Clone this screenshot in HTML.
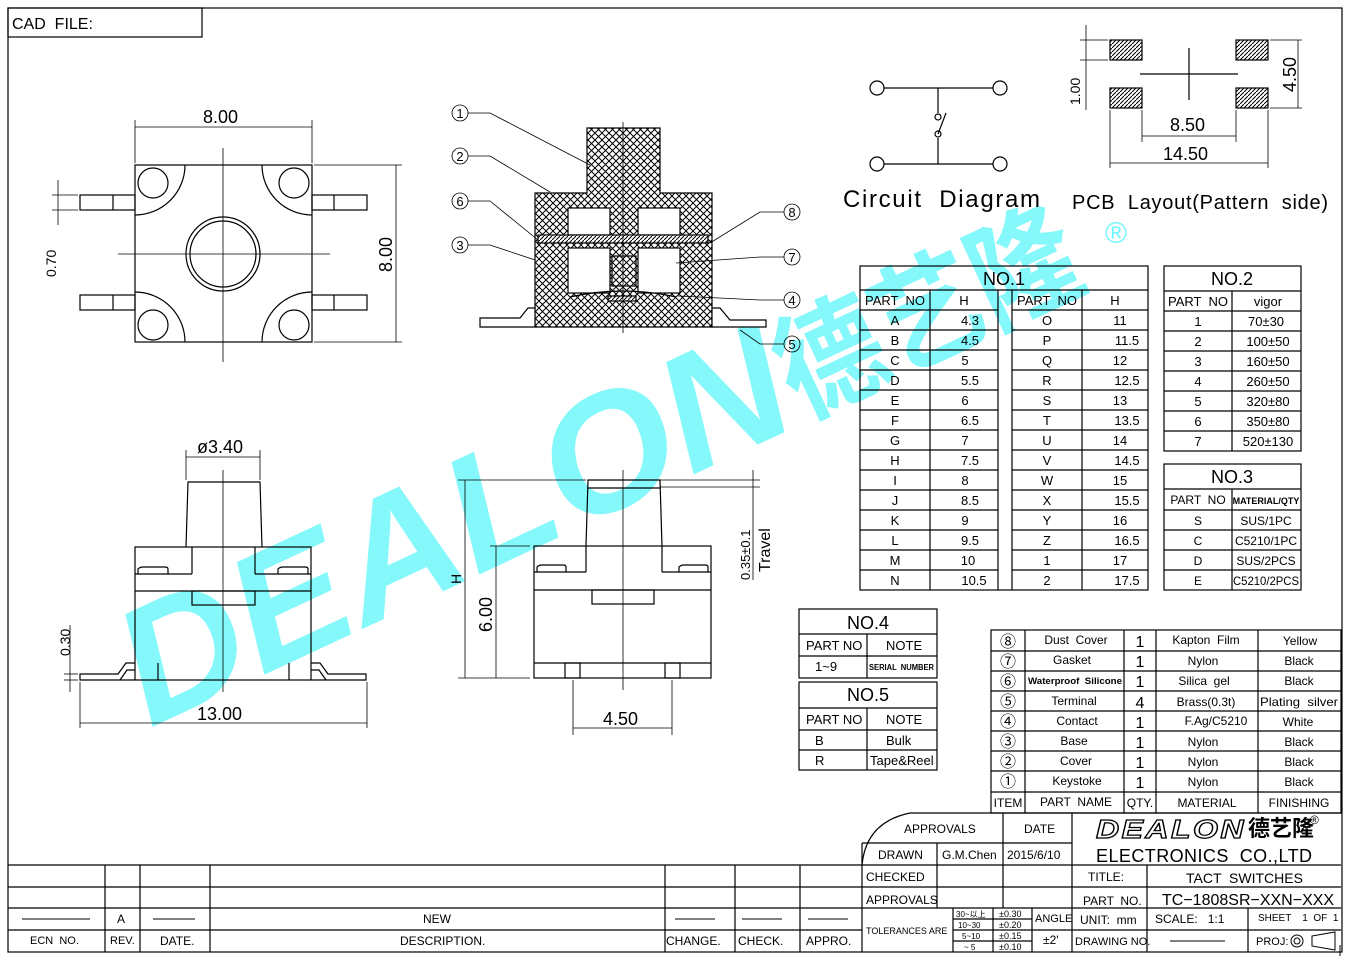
<!DOCTYPE html>
<html><head><meta charset="utf-8"><style>
html,body{margin:0;padding:0;background:#fff;}
svg{display:block;font-family:"Liberation Sans","Noto Sans CJK SC",sans-serif;}
text{fill:#000;white-space:pre;}
</style></head><body>
<svg width="1350" height="960" viewBox="0 0 1350 960" xmlns="http://www.w3.org/2000/svg" xml:space="preserve">
<defs>
<pattern id="xh" width="7" height="7" patternUnits="userSpaceOnUse">
<rect width="7" height="7" fill="#fff"/>
<path d="M0 0L7 7M7 0L0 7" stroke="#000" stroke-width="1"/>
</pattern>
<pattern id="dh" width="4" height="4" patternUnits="userSpaceOnUse">
<rect width="4" height="4" fill="#fff"/>
<path d="M0 4L4 0" stroke="#000" stroke-width="1"/>
</pattern>
</defs>
<rect width="1350" height="960" fill="#fff"/>

<!-- watermark -->
<g transform="translate(150,728) rotate(-25)" opacity="0.85">
<text x="0" y="0" font-size="165" font-weight="bold" font-style="italic" textLength="720" lengthAdjust="spacingAndGlyphs" style="fill:#6ff7fb" font-family="Liberation Sans,sans-serif">DEALON</text>
<text x="720" y="-5" font-size="120" font-weight="bold" textLength="320" lengthAdjust="spacingAndGlyphs" style="fill:#6ff7fb" font-family="Noto Sans CJK SC,sans-serif">德艺隆</text>
</g>
<text x="1105" y="243" font-size="30" style="fill:#6ff7fb">®</text>

<g fill="none" stroke="#000" stroke-width="1.2">
<rect x="8" y="8" width="1334" height="944"/>
<rect x="8" y="8" width="194" height="29"/>
</g>
<text x="12" y="29" font-size="16">CAD  FILE:</text>

<!-- TOP LEFT VIEW -->
<g fill="none" stroke="#000" stroke-width="1.2">
<rect x="135" y="165" width="177" height="177"/>
<circle cx="153" cy="183" r="15"/><circle cx="294" cy="183" r="15"/>
<circle cx="153" cy="325" r="15"/><circle cx="294" cy="325" r="15"/>
<path d="M185 165 A50 50 0 0 1 135 215M262 165 A50 50 0 0 0 312 215M185 342 A50 50 0 0 0 135 292M262 342 A50 50 0 0 1 312 292"/>
<circle cx="223" cy="254" r="37"/><circle cx="223" cy="254" r="33"/>
<rect x="80" y="195" width="55" height="15"/><line x1="113" y1="195" x2="113" y2="210"/>
<rect x="80" y="295" width="55" height="15"/><line x1="113" y1="295" x2="113" y2="310"/>
<rect x="312" y="195" width="55" height="15"/><line x1="334" y1="195" x2="334" y2="210"/>
<rect x="312" y="295" width="55" height="15"/><line x1="334" y1="295" x2="334" y2="310"/>
</g>
<g stroke="#000" stroke-width="0.8" fill="none">
<line x1="118" y1="254" x2="330" y2="254"/><line x1="223" y1="148" x2="223" y2="362"/>
<line x1="135" y1="120" x2="135" y2="163"/><line x1="312" y1="120" x2="312" y2="163"/>
<line x1="135" y1="127" x2="312" y2="127"/>
<line x1="314" y1="165" x2="402" y2="165"/><line x1="314" y1="342" x2="402" y2="342"/>
<line x1="396" y1="165" x2="396" y2="342"/>
<line x1="52" y1="195" x2="78" y2="195"/><line x1="52" y1="210" x2="78" y2="210"/>
<line x1="58" y1="180" x2="58" y2="225"/>
</g>
<text x="203" y="123" font-size="18">8.00</text>
<text transform="translate(392,272) rotate(-90)" font-size="18">8.00</text>
<text transform="translate(56,277) rotate(-90)" font-size="14">0.70</text>

<!-- CROSS SECTION -->
<g stroke="#000" stroke-width="1.2">
<path d="M535 193H587V128H660V193H712V327H535Z" fill="url(#xh)"/>
<rect x="568" y="208" width="42" height="27" fill="#fff"/>
<rect x="638" y="208" width="42" height="27" fill="#fff"/>
<rect x="568" y="248" width="42" height="45" fill="#fff"/>
<rect x="638" y="248" width="42" height="45" fill="#fff"/>
<rect x="612" y="256" width="24" height="30" fill="url(#xh)"/>
<rect x="538" y="235" width="170" height="8" fill="url(#dh)"/>
<path d="M570 297Q623 285 676 297" fill="none"/>
<rect x="608" y="296" width="28" height="5" fill="url(#dh)"/>
<path d="M480 318H520L528 308H535V327H480Z" fill="#fff"/>
<path d="M712 308H720L730 320H766V327H712Z" fill="#fff"/>
</g>
<line x1="623" y1="122" x2="623" y2="333" stroke="#000" stroke-width="0.8"/>
<g stroke="#000" stroke-width="0.8" fill="none">
<circle cx="460" cy="113" r="8"/><circle cx="460" cy="156" r="8"/><circle cx="460" cy="201" r="8"/><circle cx="460" cy="245" r="8"/>
<circle cx="792" cy="212" r="8"/><circle cx="792" cy="257" r="8"/><circle cx="792" cy="300" r="8"/><circle cx="792" cy="344" r="8"/>
<path d="M468 113H490L590 165M468 156H490L550 192M468 201H490L538 240M468 245H490L535 260"/>
<path d="M784 212H760L710 243M784 257H760L676 263M784 300H760L678 296M784 344H760L740 330"/>
</g>
<g font-size="13" text-anchor="middle">
<text x="460" y="118">1</text><text x="460" y="161">2</text><text x="460" y="206">6</text><text x="460" y="250">3</text>
<text x="792" y="217">8</text><text x="792" y="262">7</text><text x="792" y="305">4</text><text x="792" y="349">5</text>
</g>

<!-- CIRCUIT -->
<g stroke="#000" stroke-width="1.2" fill="none">
<circle cx="877" cy="88" r="7"/><circle cx="1000" cy="88" r="7"/><circle cx="877" cy="164" r="7"/><circle cx="1000" cy="164" r="7"/>
<line x1="884" y1="88" x2="993" y2="88"/><line x1="884" y1="164" x2="993" y2="164"/>
<line x1="938" y1="88" x2="938" y2="113"/><line x1="938" y1="138" x2="938" y2="164"/>
<circle cx="938" cy="117" r="3"/><circle cx="938" cy="134" r="3"/>
<line x1="938" y1="134" x2="946" y2="113"/>
</g>
<text x="843" y="207" font-size="24" textLength="197" lengthAdjust="spacing">Circuit  Diagram</text>

<!-- PCB -->
<g stroke="#000" stroke-width="1.2">
<rect x="1110" y="40" width="32" height="20" fill="url(#dh)"/>
<rect x="1236" y="40" width="32" height="20" fill="url(#dh)"/>
<rect x="1110" y="88" width="32" height="20" fill="url(#dh)"/>
<rect x="1236" y="88" width="32" height="20" fill="url(#dh)"/>
<line x1="1140" y1="74" x2="1238" y2="74"/><line x1="1189" y1="48" x2="1189" y2="100"/>
</g>
<g stroke="#000" stroke-width="0.8" fill="none">
<line x1="1080" y1="40" x2="1108" y2="40"/><line x1="1080" y1="60" x2="1108" y2="60"/><line x1="1086" y1="25" x2="1086" y2="110"/>
<line x1="1270" y1="40" x2="1302" y2="40"/><line x1="1270" y1="108" x2="1302" y2="108"/><line x1="1298" y1="40" x2="1298" y2="108"/>
<line x1="1142" y1="110" x2="1142" y2="142"/><line x1="1236" y1="110" x2="1236" y2="142"/><line x1="1142" y1="136" x2="1236" y2="136"/>
<line x1="1110" y1="110" x2="1110" y2="168"/><line x1="1268" y1="110" x2="1268" y2="168"/><line x1="1110" y1="163" x2="1268" y2="163"/>
</g>
<text transform="translate(1080,105) rotate(-90)" font-size="14">1.00</text>
<text transform="translate(1296,92) rotate(-90)" font-size="18">4.50</text>
<text x="1170" y="131" font-size="18">8.50</text>
<text x="1163" y="160" font-size="18">14.50</text>
<text x="1072" y="209" font-size="20" textLength="256" lengthAdjust="spacing">PCB  Layout(Pattern  side)</text>

<!-- NO.1 -->
<g stroke="#000" stroke-width="1.2" fill="none">
<rect x="860" y="266" width="288" height="324"/>
<line x1="860" y1="290" x2="1148" y2="290"/>
<line x1="930" y1="290" x2="930" y2="590"/><line x1="998" y1="290" x2="998" y2="590"/>
<line x1="1012" y1="290" x2="1012" y2="590"/><line x1="1082" y1="290" x2="1082" y2="590"/>
<path d="M860 310H998M860 330H998M860 350H998M860 370H998M860 390H998M860 410H998M860 430H998M860 450H998M860 470H998M860 490H998M860 510H998M860 530H998M860 550H998M860 570H998"/>
<path d="M1012 310H1148M1012 330H1148M1012 350H1148M1012 370H1148M1012 390H1148M1012 410H1148M1012 430H1148M1012 450H1148M1012 470H1148M1012 490H1148M1012 510H1148M1012 530H1148M1012 550H1148M1012 570H1148"/>
</g>
<text x="1004" y="285" font-size="18" text-anchor="middle">NO.1</text>
<g font-size="13" text-anchor="middle">
<text x="895" y="305">PART  NO</text><text x="964" y="305">H</text><text x="1047" y="305">PART  NO</text><text x="1115" y="305">H</text>
<text x="895" y="325">A</text><text x="970" y="325">4.3</text><text x="1047" y="325">O</text><text x="1120" y="325">11</text>
<text x="895" y="345">B</text><text x="970" y="345">4.5</text><text x="1047" y="345">P</text><text x="1127" y="345">11.5</text>
<text x="895" y="365">C</text><text x="965" y="365">5</text><text x="1047" y="365">Q</text><text x="1120" y="365">12</text>
<text x="895" y="385">D</text><text x="970" y="385">5.5</text><text x="1047" y="385">R</text><text x="1127" y="385">12.5</text>
<text x="895" y="405">E</text><text x="965" y="405">6</text><text x="1047" y="405">S</text><text x="1120" y="405">13</text>
<text x="895" y="425">F</text><text x="970" y="425">6.5</text><text x="1047" y="425">T</text><text x="1127" y="425">13.5</text>
<text x="895" y="445">G</text><text x="965" y="445">7</text><text x="1047" y="445">U</text><text x="1120" y="445">14</text>
<text x="895" y="465">H</text><text x="970" y="465">7.5</text><text x="1047" y="465">V</text><text x="1127" y="465">14.5</text>
<text x="895" y="485">I</text><text x="965" y="485">8</text><text x="1047" y="485">W</text><text x="1120" y="485">15</text>
<text x="895" y="505">J</text><text x="970" y="505">8.5</text><text x="1047" y="505">X</text><text x="1127" y="505">15.5</text>
<text x="895" y="525">K</text><text x="965" y="525">9</text><text x="1047" y="525">Y</text><text x="1120" y="525">16</text>
<text x="895" y="545">L</text><text x="970" y="545">9.5</text><text x="1047" y="545">Z</text><text x="1127" y="545">16.5</text>
<text x="895" y="565">M</text><text x="968" y="565">10</text><text x="1047" y="565">1</text><text x="1120" y="565">17</text>
<text x="895" y="585">N</text><text x="974" y="585">10.5</text><text x="1047" y="585">2</text><text x="1127" y="585">17.5</text>
</g>

<!-- NO.2 / NO.3 -->
<g stroke="#000" stroke-width="1.2" fill="none">
<rect x="1164" y="266" width="137" height="185"/>
<line x1="1164" y1="291" x2="1301" y2="291"/><line x1="1232" y1="291" x2="1232" y2="451"/>
<path d="M1164 311H1301M1164 331H1301M1164 351H1301M1164 371H1301M1164 391H1301M1164 411H1301M1164 431H1301"/>
<rect x="1164" y="464" width="137" height="126"/>
<line x1="1164" y1="489" x2="1301" y2="489"/><line x1="1232" y1="489" x2="1232" y2="590"/>
<path d="M1164 510H1301M1164 530H1301M1164 550H1301M1164 570H1301"/>
</g>
<text x="1232" y="285" font-size="18" text-anchor="middle">NO.2</text>
<g font-size="13" text-anchor="middle">
<text x="1198" y="306">PART  NO</text><text x="1268" y="306">vigor</text>
<text x="1198" y="326">1</text><text x="1266" y="326">70±30</text>
<text x="1198" y="346">2</text><text x="1268" y="346">100±50</text>
<text x="1198" y="366">3</text><text x="1268" y="366">160±50</text>
<text x="1198" y="386">4</text><text x="1268" y="386">260±50</text>
<text x="1198" y="406">5</text><text x="1268" y="406">320±80</text>
<text x="1198" y="426">6</text><text x="1268" y="426">350±80</text>
<text x="1198" y="446">7</text><text x="1268" y="446">520±130</text>
</g>
<text x="1232" y="483" font-size="18" text-anchor="middle">NO.3</text>
<g font-size="12" text-anchor="middle">
<text x="1198" y="504">PART  NO</text><text x="1266" y="504" font-size="9" font-weight="bold">MATERIAL/QTY</text>
<text x="1198" y="525">S</text><text x="1266" y="525">SUS/1PC</text>
<text x="1198" y="545">C</text><text x="1266" y="545">C5210/1PC</text>
<text x="1198" y="565">D</text><text x="1266" y="565">SUS/2PCS</text>
<text x="1198" y="585">E</text><text x="1266" y="585" textLength="66" lengthAdjust="spacingAndGlyphs">C5210/2PCS</text>
</g>

<!-- NO.4 / NO.5 -->
<g stroke="#000" stroke-width="1.2" fill="none">
<rect x="799" y="609" width="138" height="69"/>
<line x1="799" y1="634" x2="937" y2="634"/><line x1="799" y1="656" x2="937" y2="656"/><line x1="867" y1="634" x2="867" y2="678"/>
<rect x="799" y="682" width="138" height="88"/>
<line x1="799" y1="708" x2="937" y2="708"/><line x1="799" y1="730" x2="937" y2="730"/><line x1="799" y1="750" x2="937" y2="750"/><line x1="867" y1="708" x2="867" y2="770"/>
</g>
<text x="868" y="629" font-size="18" text-anchor="middle">NO.4</text>
<text x="868" y="701" font-size="18" text-anchor="middle">NO.5</text>
<g font-size="13">
<text x="806" y="650">PART NO</text><text x="886" y="650">NOTE</text>
<text x="815" y="671">1~9</text><text x="869" y="670" font-size="8" font-weight="bold" textLength="65" lengthAdjust="spacingAndGlyphs">SERIAL  NUMBER</text>
<text x="806" y="724">PART NO</text><text x="886" y="724">NOTE</text>
<text x="815" y="745">B</text><text x="886" y="745">Bulk</text>
<text x="815" y="765">R</text><text x="870" y="765">Tape&amp;Reel</text>
</g>

<!-- BOM -->
<g stroke="#000" stroke-width="1.2" fill="none">
<rect x="991" y="630" width="350" height="183"/>
<path d="M991 651H1341M991 671H1341M991 691H1341M991 711H1341M991 731H1341M991 751H1341M991 771H1341M991 792H1341"/>
<path d="M1025 630V813M1124 630V813M1156 630V813M1258 630V813"/>
</g>
<g font-size="12" text-anchor="middle">
<text x="1008" y="647" font-size="16">⑧</text><text x="1076" y="644">Dust  Cover</text><text x="1140" y="647" font-size="16">1</text><text x="1206" y="644">Kapton  Film</text><text x="1300" y="645">Yellow</text>
<text x="1008" y="667" font-size="16">⑦</text><text x="1072" y="664">Gasket</text><text x="1140" y="667" font-size="16">1</text><text x="1203" y="665">Nylon</text><text x="1299" y="665">Black</text>
<text x="1008" y="687" font-size="16">⑥</text><text x="1075" y="684" font-size="9" font-weight="bold" textLength="94" lengthAdjust="spacingAndGlyphs">Waterproof  Silicone</text><text x="1140" y="687" font-size="16">1</text><text x="1204" y="685">Silica  gel</text><text x="1299" y="685">Black</text>
<text x="1008" y="707" font-size="16">⑤</text><text x="1074" y="705">Terminal</text><text x="1140" y="708" font-size="16">4</text><text x="1206" y="706">Brass(0.3t)</text><text x="1299" y="706" textLength="78" lengthAdjust="spacingAndGlyphs">Plating  silver</text>
<text x="1008" y="727" font-size="16">④</text><text x="1077" y="725">Contact</text><text x="1140" y="728" font-size="16">1</text><text x="1216" y="725">F.Ag/C5210</text><text x="1298" y="726">White</text>
<text x="1008" y="747" font-size="16">③</text><text x="1074" y="745">Base</text><text x="1140" y="748" font-size="16">1</text><text x="1203" y="746">Nylon</text><text x="1299" y="746">Black</text>
<text x="1008" y="767" font-size="16">②</text><text x="1076" y="765">Cover</text><text x="1140" y="768" font-size="16">1</text><text x="1203" y="766">Nylon</text><text x="1299" y="766">Black</text>
<text x="1008" y="787" font-size="16">①</text><text x="1077" y="785">Keystoke</text><text x="1140" y="788" font-size="16">1</text><text x="1203" y="786">Nylon</text><text x="1299" y="786">Black</text>
<text x="1008" y="807">ITEM</text><text x="1076" y="806">PART  NAME</text><text x="1140" y="807">QTY.</text><text x="1207" y="807">MATERIAL</text><text x="1299" y="807">FINISHING</text>
</g>

<!-- FRONT VIEW -->
<g stroke="#000" stroke-width="1.2" fill="none">
<path d="M186 547L188 482H260L262 547"/>
<rect x="135" y="547" width="176" height="133"/>
<line x1="135" y1="574" x2="192" y2="574"/><line x1="255" y1="574" x2="311" y2="574"/>
<line x1="192" y1="547" x2="192" y2="574"/><line x1="255" y1="547" x2="255" y2="574"/>
<line x1="135" y1="591" x2="311" y2="591"/>
<rect x="192" y="591" width="63" height="14"/>
<path d="M138 574V569Q140 567 143 567H165Q168 567 168 569V574"/>
<path d="M278 574V569Q280 567 283 567H305Q308 567 308 569V574"/>
<path d="M135 663H126L118 674H80V680H135"/><path d="M135 670H127L120 680"/>
<path d="M311 663H320L328 674H366V680H311"/><path d="M311 670H319L326 680"/>
<line x1="158" y1="663" x2="158" y2="680"/><line x1="289" y1="663" x2="289" y2="680"/>
</g>
<g stroke="#000" stroke-width="0.8" fill="none">
<line x1="223" y1="470" x2="223" y2="692"/>
<line x1="186" y1="450" x2="186" y2="480"/><line x1="260" y1="450" x2="260" y2="480"/><line x1="186" y1="457" x2="260" y2="457"/>
<line x1="80" y1="682" x2="80" y2="728"/><line x1="367" y1="682" x2="367" y2="728"/><line x1="80" y1="723" x2="367" y2="723"/>
<line x1="70" y1="625" x2="70" y2="692"/><line x1="64" y1="674" x2="78" y2="674"/><line x1="64" y1="680" x2="78" y2="680"/>
</g>
<text x="197" y="453" font-size="18">ø3.40</text>
<text x="197" y="720" font-size="18">13.00</text>
<text transform="translate(70,656) rotate(-90)" font-size="14">0.30</text>

<!-- SIDE VIEW -->
<g stroke="#000" stroke-width="1.2" fill="none">
<path d="M586 546L588 480H660L662 546"/><line x1="588" y1="488" x2="660" y2="488"/>
<rect x="534" y="546" width="177" height="132"/>
<line x1="534" y1="572" x2="586" y2="572"/><line x1="662" y1="572" x2="711" y2="572"/>
<line x1="586" y1="546" x2="586" y2="572"/><line x1="662" y1="546" x2="662" y2="572"/>
<line x1="534" y1="590" x2="711" y2="590"/>
<rect x="592" y="590" width="62" height="14"/>
<path d="M537 572V567Q539 565 542 565H563Q566 565 566 567V572"/>
<path d="M679 572V567Q681 565 684 565H705Q708 565 708 567V572"/>
<line x1="534" y1="663" x2="711" y2="663"/>
<rect x="565" y="663" width="15" height="15"/><rect x="665" y="663" width="15" height="15"/>
</g>
<g stroke="#000" stroke-width="0.8" fill="none">
<line x1="623" y1="470" x2="623" y2="690"/>
<line x1="458" y1="480" x2="586" y2="480"/><line x1="465" y1="480" x2="465" y2="678"/>
<line x1="458" y1="678" x2="530" y2="678"/>
<line x1="490" y1="546" x2="530" y2="546"/><line x1="496" y1="546" x2="496" y2="678"/>
<line x1="660" y1="480" x2="760" y2="480"/><line x1="660" y1="487" x2="760" y2="487"/><line x1="753" y1="470" x2="753" y2="580"/>
<line x1="573" y1="680" x2="573" y2="735"/><line x1="672" y1="680" x2="672" y2="735"/><line x1="573" y1="728" x2="672" y2="728"/>
</g>
<text transform="translate(461,584) rotate(-90)" font-size="14">H</text>
<text transform="translate(492,632) rotate(-90)" font-size="18">6.00</text>
<text transform="translate(750,580) rotate(-90)" font-size="13">0.35±0.1</text>
<text transform="translate(770,572) rotate(-90)" font-size="16">Travel</text>
<text x="603" y="725" font-size="18">4.50</text>

<!-- TITLE BLOCK -->
<g stroke="#000" stroke-width="1.2" fill="none">
<path d="M862 865Q866 822 910 813H1341"/>
<line x1="8" y1="865" x2="1341" y2="865"/>
<line x1="8" y1="887" x2="1341" y2="887"/>
<line x1="8" y1="908" x2="1341" y2="908"/>
<line x1="8" y1="930" x2="862" y2="930"/>
<line x1="1072" y1="930" x2="1341" y2="930"/>
<line x1="862" y1="843" x2="1072" y2="843"/>
<line x1="862" y1="843" x2="862" y2="952"/>
<path d="M105 865V952M140 865V952M210 865V952M665 865V952M735 865V952M800 865V952"/>
<line x1="937" y1="843" x2="937" y2="908"/>
<line x1="1003" y1="813" x2="1003" y2="908"/>
<line x1="1072" y1="813" x2="1072" y2="952"/>
<line x1="1147" y1="865" x2="1147" y2="952"/>
<line x1="1248" y1="908" x2="1248" y2="952"/>
<path d="M953 908V952M993 908V952M1032 908V952"/>
<path d="M953 919H1032M953 930H1032M953 941H1032"/>
<line x1="1032" y1="930" x2="1072" y2="930"/>
</g>
<g font-size="12">
<text x="904" y="833">APPROVALS</text><text x="1024" y="833">DATE</text>
<text x="878" y="859">DRAWN</text><text x="942" y="859">G.M.Chen</text><text x="1007" y="859">2015/6/10</text>
<text x="866" y="881">CHECKED</text><text x="866" y="904">APPROVALS</text>
<text x="866" y="934" font-size="9">TOLERANCES ARE</text>
<text x="956" y="917" font-size="8">30~以上</text><text x="999" y="917" font-size="9">±0.30</text>
<text x="958" y="928" font-size="8">10~30</text><text x="999" y="928" font-size="9">±0.20</text>
<text x="962" y="939" font-size="8">5~10</text><text x="999" y="939" font-size="9">±0.15</text>
<text x="964" y="950" font-size="8">~ 5</text><text x="999" y="950" font-size="9">±0.10</text>
<text x="1035" y="922" font-size="11">ANGLE</text><text x="1043" y="944">±2'</text>
<text x="1088" y="881">TITLE:</text><text x="1186" y="883" font-size="14">TACT  SWITCHES</text>
<text x="1083" y="905">PART  NO.</text><text x="1162" y="905" font-size="16">TC−1808SR−XXN−XXX</text>
<text x="1080" y="924">UNIT:  mm</text><text x="1155" y="923">SCALE:   1:1</text><text x="1258" y="921" font-size="10">SHEET    1  OF  1</text>
<text x="1075" y="945" font-size="11">DRAWING NO.</text><text x="1256" y="945" font-size="11">PROJ:</text>
<text x="1096" y="838" font-size="26" font-style="italic" font-weight="bold" letter-spacing="2" textLength="150" lengthAdjust="spacingAndGlyphs" style="fill:#fff;stroke:#000;stroke-width:1.2">DEALON</text>
<text x="1248" y="836" font-size="22" font-weight="bold" font-family="Noto Sans CJK SC,sans-serif">德艺隆</text>
<text x="1310" y="824" font-size="12">®</text>
<text x="1096" y="862" font-size="18" textLength="216" lengthAdjust="spacing">ELECTRONICS  CO.,LTD</text>
<text x="30" y="944" font-size="11">ECN  NO.</text><text x="110" y="944" font-size="11">REV.</text>
<text x="160" y="945">DATE.</text><text x="400" y="945">DESCRIPTION.</text>
<text x="423" y="923">NEW</text><text x="117" y="923">A</text>
<text x="666" y="945">CHANGE.</text><text x="738" y="945">CHECK.</text><text x="806" y="945">APPRO.</text>
</g>
<g stroke="#000" stroke-width="1" fill="none">
<line x1="22" y1="919" x2="90" y2="919"/><line x1="153" y1="919" x2="195" y2="919"/>
<line x1="675" y1="919" x2="715" y2="919"/><line x1="742" y1="919" x2="782" y2="919"/><line x1="808" y1="919" x2="848" y2="919"/>
<line x1="1170" y1="941" x2="1225" y2="941"/>
<circle cx="1297" cy="941" r="6"/><circle cx="1297" cy="941" r="3"/>
<path d="M1312 936L1335 932V950L1312 946Z"/>
<path d="M1340 956V945"/>
</g>
</svg>
</body></html>
